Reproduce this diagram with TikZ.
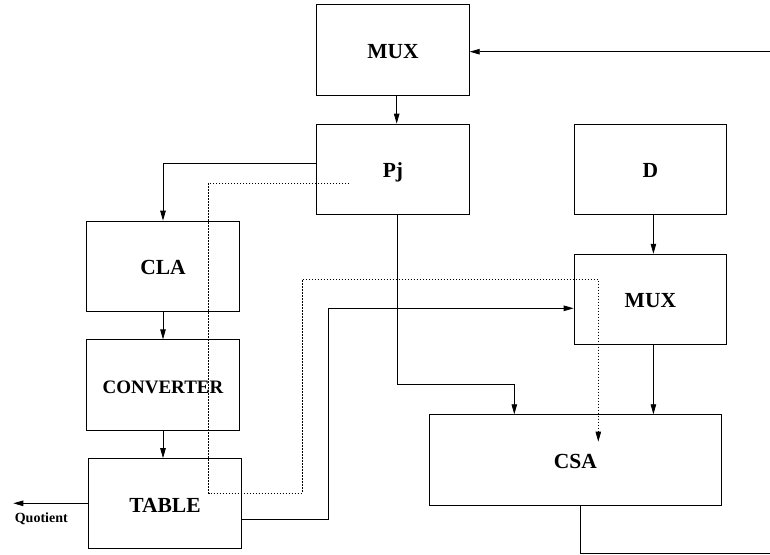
\documentclass[tikz,border=0pt]{standalone}
\usepackage{fontspec}
\setmainfont{Liberation Serif}
\usetikzlibrary{positioning,arrows.meta}

\begin{document}
\begin{tikzpicture}[x=1pt, y=-1pt, line width=0.8pt,
    blk/.style={draw, inner sep=0pt, minimum width=152.6pt, minimum height=90.3pt, text height=17pt, text depth=0pt, font=\fontsize{21.5}{24}\selectfont\bfseries},
    arr/.style={-{Triangle[length=10pt,width=5.5pt]}},
    dots/.style={line width=0.7pt, dash pattern=on 1.5pt off 1.5pt}]
    \useasboundingbox (0,0) rectangle (770,554);

    \node[blk] (mux1) at (393,49.8) {MUX};
    \node[blk, below=28.3pt of mux1] (pj) {Pj};
    \node[blk, right=104pt of pj] (d) {D};
    \node[blk, below=39pt of d] (mux2) {MUX};
    \node[blk] (cla) at (163,266.2) {CLA};
    \node[blk, below=27.6pt of cla, font=\fontsize{19}{22}\selectfont\bfseries] (conv) {CONVERTER};
    \node[blk, below=27.7pt of conv, xshift=2pt] (table) {TABLE};
    \node[blk, minimum width=292pt] (csa) at (575.3,459.85) {CSA};
    \node[font=\fontsize{14}{16}\selectfont\bfseries, inner sep=0pt] (qlabel) at (41.3,519) {Quotient};

    \coordinate (in) at (770,51.7);
    \coordinate (out) at (770,553.3);
    \coordinate (quot) at (13.3,503.3);

    \draw[arr] (in) -- (in -| mux1.east);
    \draw[arr] ([xshift=3.7pt]mux1.south) -- ([xshift=3.7pt]mux1.south |- pj.north);
    \draw[arr] ([yshift=5.6pt]pj.west) -| (cla.north);
    \draw[arr] (cla.south) -- (conv.north);
    \draw[arr] (conv.south) -- (conv.south |- table.north);
    \draw[arr] (table.west |- quot) -- (quot);
    \draw[arr] ([yshift=-15.3pt]table.east) -- ++(86.7,0) |- ([yshift=-9pt]mux2.west);
    \draw[arr] ([xshift=3pt]d.south) -- ([xshift=3pt]mux2.north);
    \draw[arr] ([xshift=3pt]mux2.south) -- ([xshift=3pt]mux2.south |- csa.north);
    \draw[arr] ([xshift=4pt]pj.south) -- ++(0,170) -| ([xshift=-61pt]csa.north);
    \draw ([xshift=4.7pt]csa.south) |- (out);

    % dotted path from Pj to CSA
    \coordinate (dstart) at ([xshift=-43.7pt, yshift=-13.7pt]pj.center);
    \coordinate (dend) at ([xshift=23pt, yshift=18.2pt]csa.center);
    \draw[dots, arr] (dstart) -| (208.7,493.3) -| (302.3,279.3) -| (dend);
\end{tikzpicture}
\end{document}
